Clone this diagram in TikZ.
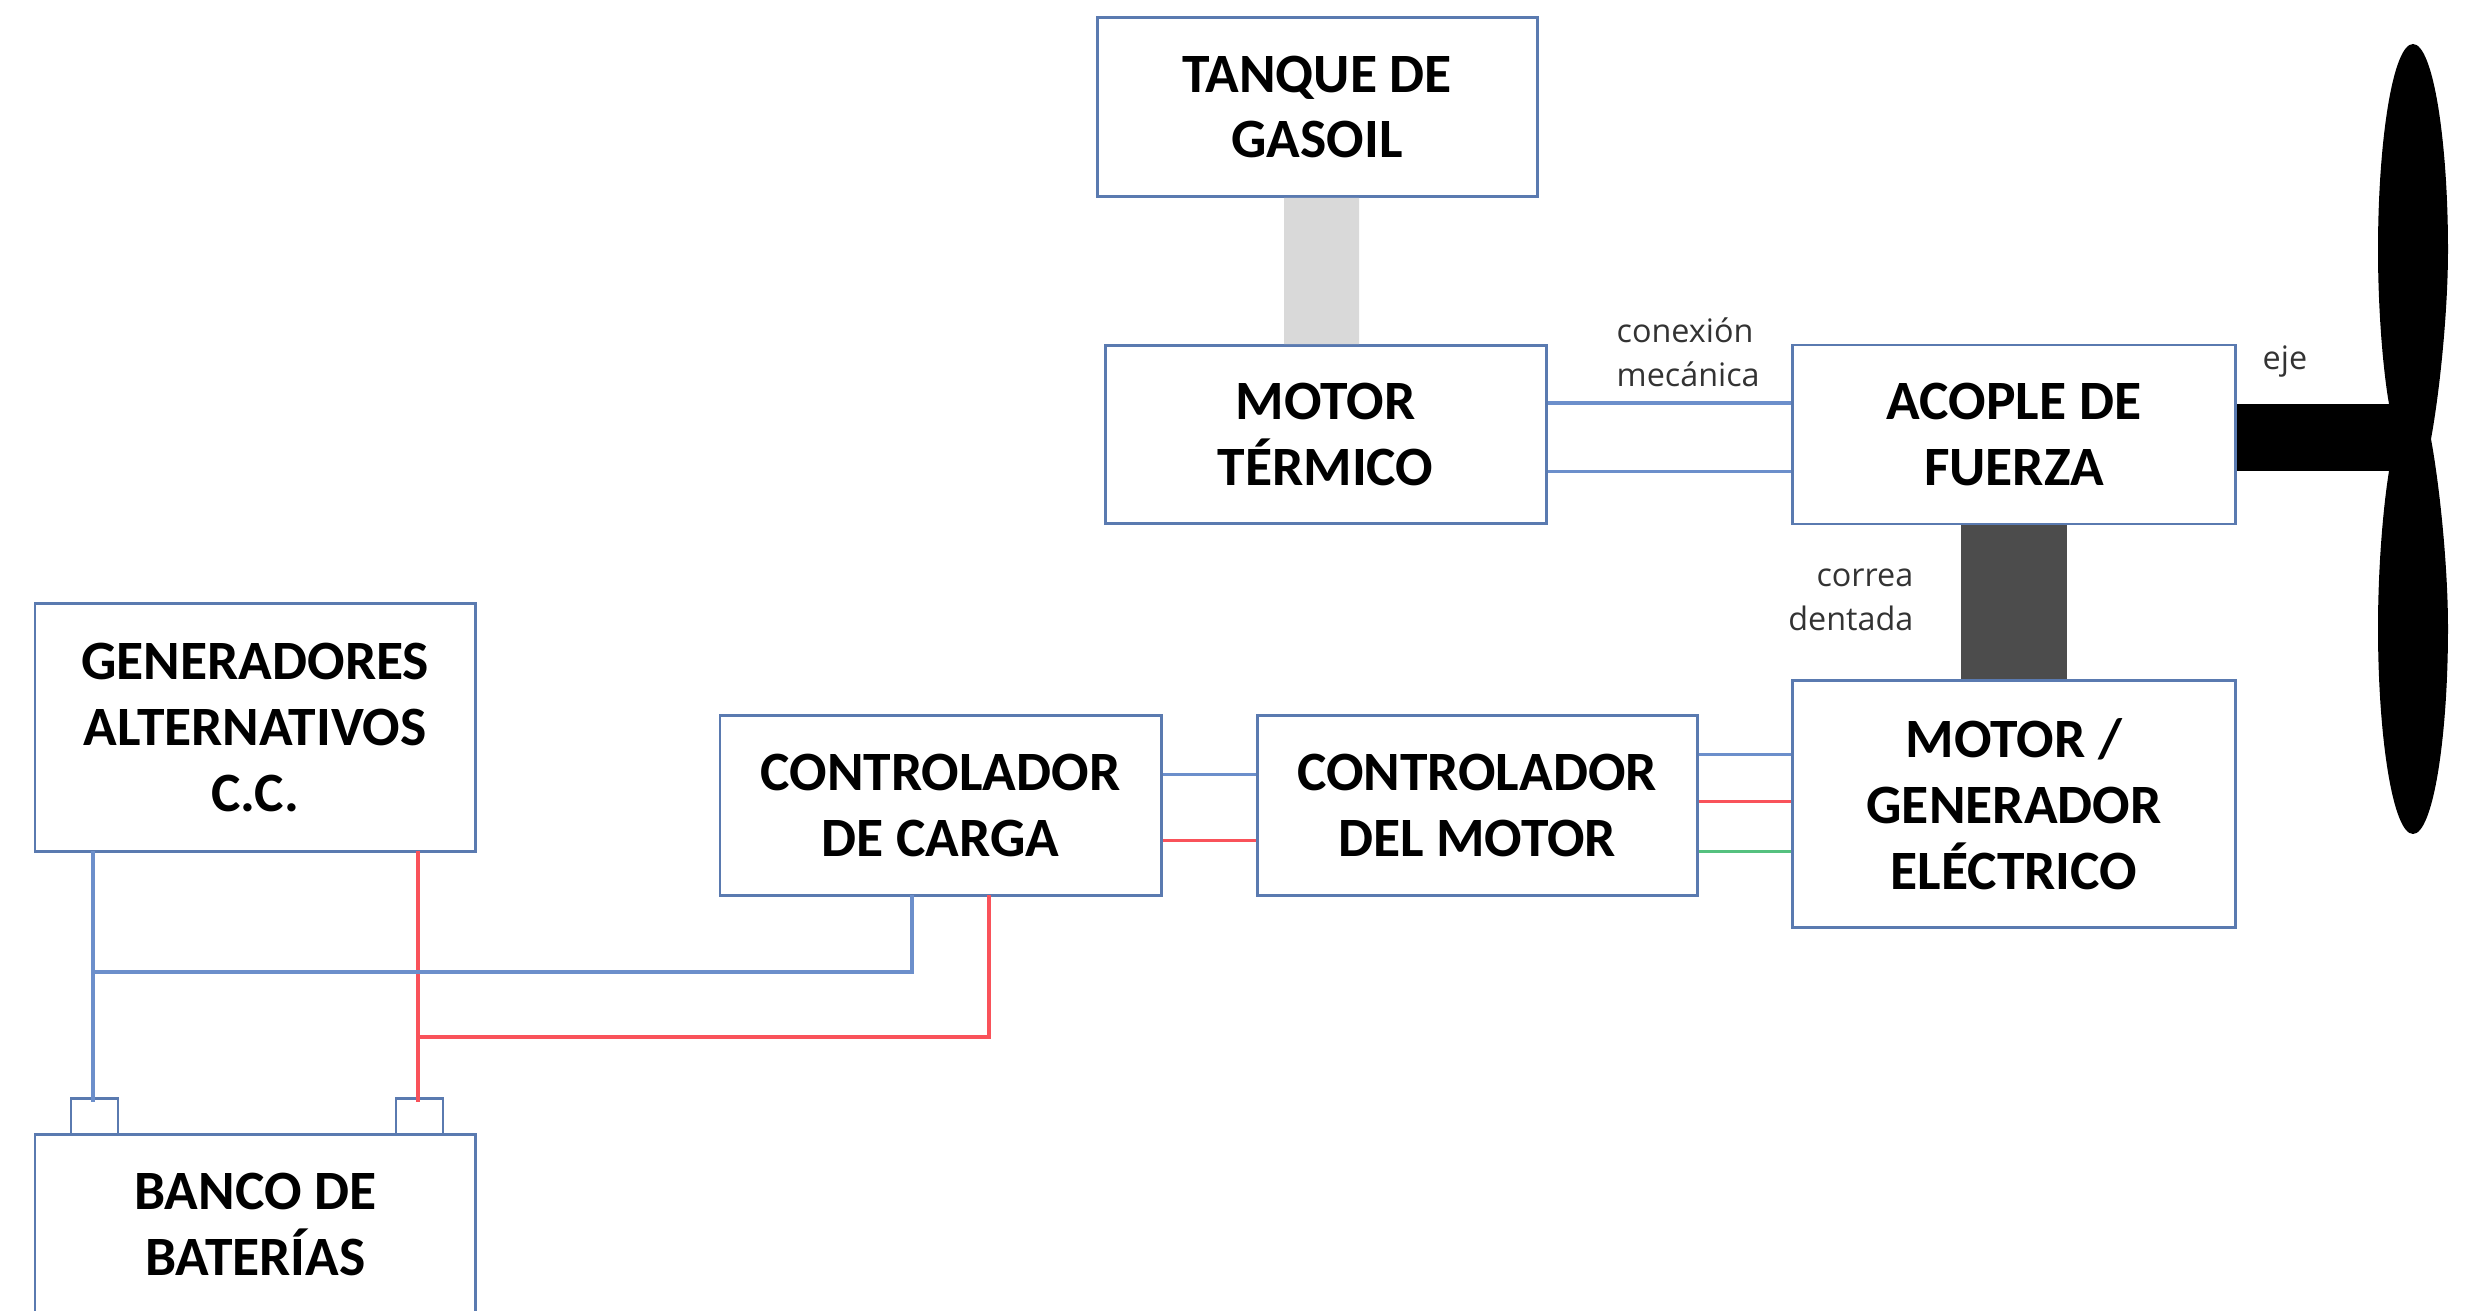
\documentclass[tikz,border=0pt]{standalone}
\usepackage{fontspec}
\setmainfont{Carlito}
\newfontfamily\notefont{Open Sans}
\definecolor{boxblue}{HTML}{5A7AB0}
\definecolor{wireblue}{HTML}{6C8FCB}
\definecolor{wirered}{HTML}{F9525A}
\definecolor{wiregreen}{HTML}{55C17F}
\tikzset{
	block/.style={draw=boxblue, line width=0.85pt, fill=white, align=center, inner sep=0pt, font=\bfseries\fontsize{15.8}{18.7}\selectfont},
	terminal/.style={draw=boxblue, line width=0.7pt, fill=white, minimum width=0.47cm, minimum height=0.36cm},
	note/.style={inner sep=0pt, font=\notefont\fontsize{9.2}{12.5}\selectfont, text=black!80},
	bluewire/.style={draw=wireblue, line width=0.9pt},
	redwire/.style={draw=wirered, line width=0.9pt},
	greenwire/.style={draw=wiregreen, line width=0.9pt}
}
\begin{document}
\begin{tikzpicture}
	\useasboundingbox (0,0) rectangle (24.84,-13.11);
	\node (TG) at (13.17, -1.07)	[block, minimum width=4.40cm, minimum height=1.79cm]	{TANQUE DE\\GASOIL};
	\node (MT) at (13.255, -4.345)	[block, minimum width=4.41cm, minimum height=1.78cm]	{MOTOR\\TÉRMICO};
	\node (AF) at (20.14, -4.345)	[block, minimum width=4.435cm, minimum height=1.79cm]	{ACOPLE DE\\FUERZA};
	\node (MG) at (20.14, -8.04)	[block, minimum width=4.435cm, minimum height=2.47cm]	{MOTOR /\\GENERADOR\\ELÉCTRICO};
	\node (CM) at (14.77, -8.055)	[block, minimum width=4.40cm, minimum height=1.80cm]	{CONTROLADOR\\DEL MOTOR};
	\node (CC) at (9.405, -8.055)	[block, minimum width=4.41cm, minimum height=1.80cm]	{CONTROLADOR\\DE CARGA};
	\node (GA) at (2.5525, -7.275)	[block, minimum width=4.405cm, minimum height=2.475cm]	{GENERADORES\\ALTERNATIVOS\\C.C.};
	\node (BB) at (2.5525, -12.245)	[block, minimum width=4.405cm, minimum height=1.80cm]	{BANCO DE\\BATERÍAS};
	\node (T1) at (0.9425, -11.165)	[terminal]	{};
	\node (T2) at (4.195, -11.165)	[terminal]	{};

	\coordinate (BW) at (0.93, -8.51);
	\coordinate (RW) at (4.18, -8.51);
	\coordinate (BE) at (0.93, -11.02);
	\coordinate (RE) at (4.18, -11.02);
	\coordinate (BJ) at (0.93, -9.72);
	\coordinate (RJ) at (4.18, -10.37);
	\coordinate (CB) at (9.12, -8.95);
	\coordinate (CR) at (9.89, -8.95);
	\coordinate (HB) at (24.0, -4.375);

	\draw[redwire] (RW) -- (RE);
	\draw[redwire] (RJ) -| (CR);
	\draw[bluewire] (BW) -- (BE);
	\draw[bluewire] (BJ) -| (CB);
	\draw[bluewire] ([yshift=0.31cm]CC.east) -- ([yshift=0.31cm]CM.west);
	\draw[redwire] ([yshift=-0.35cm]CC.east) -- ([yshift=-0.35cm]CM.west);
	\draw[bluewire] ([yshift=0.51cm]CM.east) -- ([yshift=0.51cm]CM.east -| MG.west);
	\draw[redwire] ([yshift=0.04cm]CM.east) -- ([yshift=0.04cm]CM.east -| MG.west);
	\draw[greenwire] ([yshift=-0.46cm]CM.east) -- ([yshift=-0.46cm]CM.east -| MG.west);
	\draw[bluewire] ([yshift=0.315cm]MT.east) -- ([yshift=0.315cm]AF.west);
	\draw[bluewire] ([yshift=-0.37cm]MT.east) -- ([yshift=-0.37cm]AF.west);

	\draw[line width=0.75cm, draw=black!15] ([xshift=0.045cm]TG.south) -- ([xshift=-0.04cm]MT.north);
	\draw[line width=1.065cm, draw=black!70] (AF.south) -- (MG.north);
	\draw[line width=0.67cm, draw=black] (AF.east |- HB) -- (HB);

	\fill[black] (24.31, -4.39) .. controls (24.40, -3.9) and (24.48, -3.1) .. (24.48, -2.5) .. controls (24.48, -1.4) and (24.33, -0.44) .. (24.13, -0.44) .. controls (23.93, -0.44) and (23.78, -1.4) .. (23.78, -2.5) .. controls (23.78, -3.1) and (23.83, -3.7) .. (23.89, -4.04) -- (23.89, -4.39) -- cycle;
	\fill[black] (24.31, -4.39) .. controls (24.40, -4.88) and (24.48, -5.68) .. (24.48, -6.28) .. controls (24.48, -7.38) and (24.33, -8.34) .. (24.13, -8.34) .. controls (23.93, -8.34) and (23.78, -7.38) .. (23.78, -6.28) .. controls (23.78, -5.68) and (23.83, -5.08) .. (23.89, -4.71) -- (23.89, -4.39) -- cycle;

	\node (NC) at (16.16, -3.52)	[note, anchor=west, align=left]	{conexión\\mecánica};
	\node (NE) at (22.62, -3.62)	[note, anchor=west]	{eje};
	\node (NR) at (19.14, -6.00)	[note, anchor=east, align=right]	{correa\\dentada};
\end{tikzpicture}
\end{document}
